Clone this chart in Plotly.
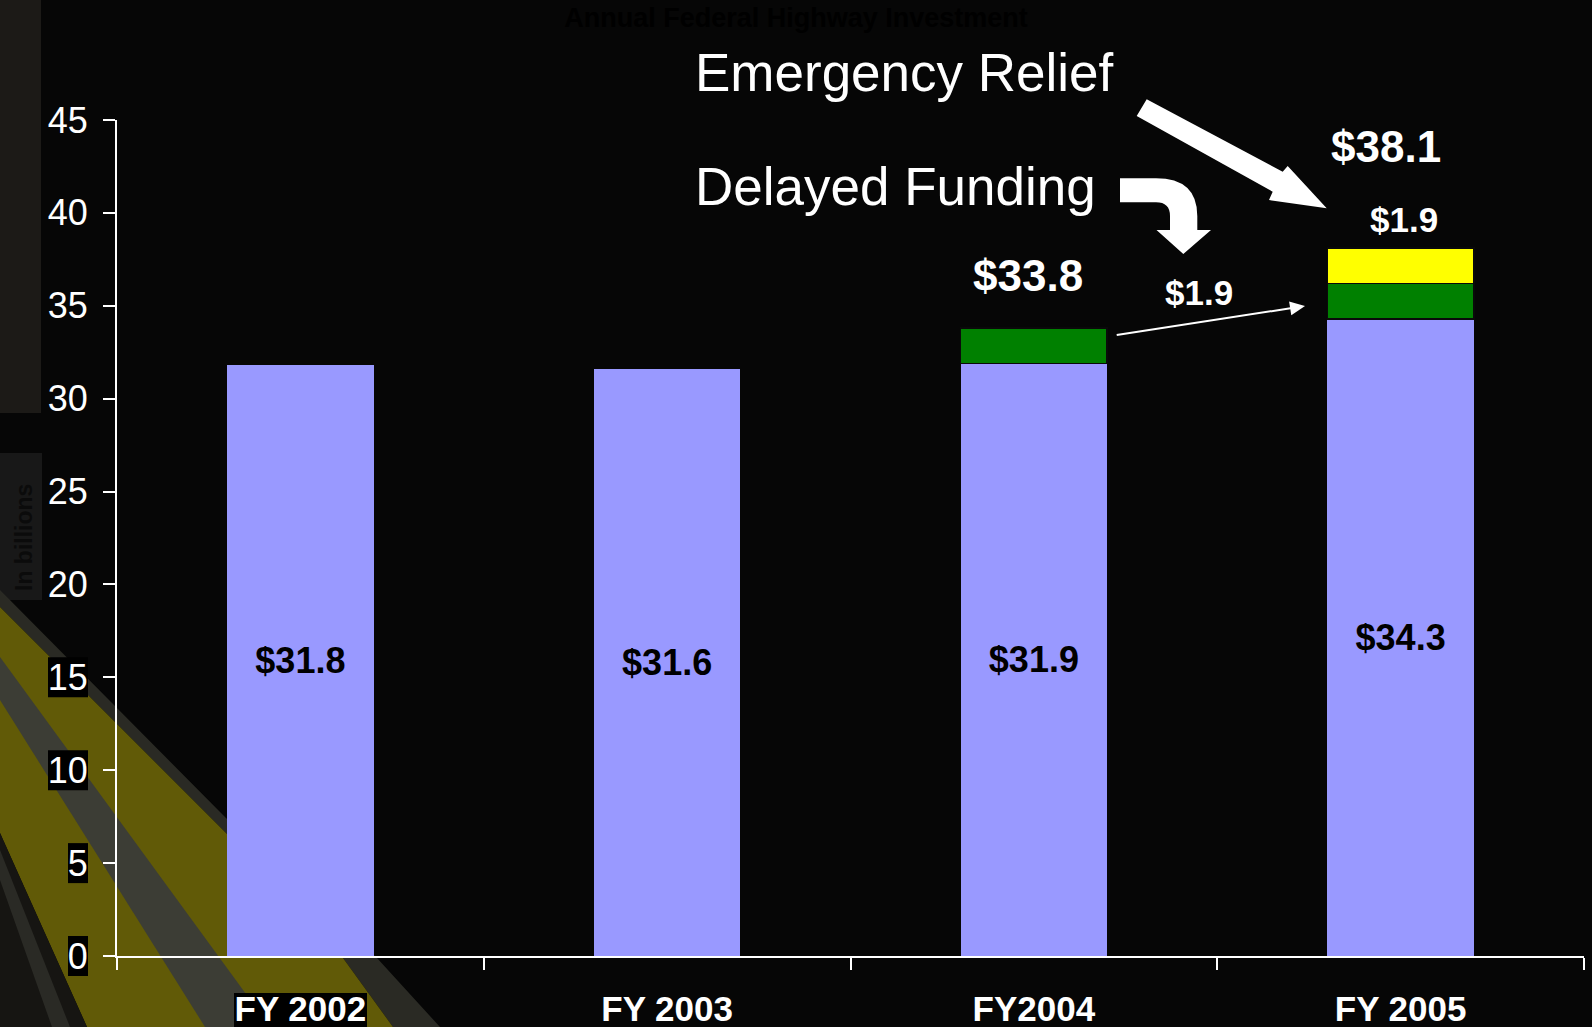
import plotly.graph_objects as go

# ---------------- data ----------------
years = ["FY 2002", "FY 2003", "FY2004", "FY 2005"]
base_funding = [31.8, 31.6, 31.9, 34.3]
delayed_funding = [None, None, 1.9, 1.9]
emergency_relief = [None, None, None, 1.9]
y_tick_values = [0, 5, 10, 15, 20, 25, 30, 35, 40, 45]

title_text = "Annual Federal Highway Investment"
y_title = "In billions"
label_emergency = "Emergency Relief"
label_delayed = "Delayed Funding"

# ---------------- geometry helpers (decoration only) ----------------
W, H = 1592, 1027
L, R, T, B = 117, 8, 120, 71
PW, PH = W - L - R, H - T - B
FONT = "Liberation Sans, Arial, sans-serif"


def px(x):
    return (x - L) / PW


def py(y):
    return (H - B - y) / PH


def poly(points):
    return "M " + " L ".join(f"{px(x):.5f},{py(y):.5f}" for x, y in points) + " Z"


totals = [sum(v for v in vals if v is not None)
          for vals in zip(base_funding, delayed_funding, emergency_relief)]

fig = go.Figure()
fig.add_trace(go.Bar(
    x=years, y=base_funding, name="Base",
    marker=dict(color="#9999ff", line=dict(width=0)),
    texttemplate="$%{y:.1f}", textposition="inside", insidetextanchor="middle",
    textangle=0, textfont=dict(family=FONT, size=36, color="black", weight="bold"),
))
fig.add_trace(go.Bar(
    x=years, y=delayed_funding, name=label_delayed,
    marker=dict(color="#008000", line=dict(width=1.5, color="#0a0a0a")),
))
fig.add_trace(go.Bar(
    x=years, y=emergency_relief, name=label_emergency,
    marker=dict(color="#ffff00", line=dict(width=1.5, color="#0a0a0a")),
))

shapes = []
# background decoration: left strip and road stripes
shapes.append(dict(type="rect", xref="paper", yref="paper", x0=px(0), x1=px(41), y0=py(413), y1=py(0),
                   fillcolor="#1c1a17", line=dict(width=0), layer="below"))
shapes.append(dict(type="rect", xref="paper", yref="paper", x0=px(0), x1=px(42), y0=py(600), y1=py(453),
                   fillcolor="#181818", line=dict(width=0), layer="below"))
shapes.append(dict(type="path", xref="paper", yref="paper", layer="below", line=dict(width=0),
                   fillcolor="#2a2a24",
                   path=poly([(0, 590), (226, 818), (377, 958), (440, 1027), (393, 1027), (343, 958),
                              (226, 833), (0, 607)])))
shapes.append(dict(type="path", xref="paper", yref="paper", layer="below", line=dict(width=0),
                   fillcolor="#615a07",
                   path=poly([(0, 607), (226, 833), (343, 958), (393, 1027), (87, 1027), (0, 833)])))
shapes.append(dict(type="path", xref="paper", yref="paper", layer="below", line=dict(width=0),
                   fillcolor="#3c3d35",
                   path=poly([(0, 657), (270, 1027), (205, 1027), (0, 700)])))
shapes.append(dict(type="path", xref="paper", yref="paper", layer="below", line=dict(width=0),
                   fillcolor="#161512",
                   path=poly([(0, 833), (87, 1027), (0, 1027)])))
shapes.append(dict(type="path", xref="paper", yref="paper", layer="below", line=dict(width=0),
                   fillcolor="#2a2a25",
                   path=poly([(0, 850), (70, 1027), (52, 1027), (0, 880)])))

# black boxes behind tick labels (from the slide)
for v in [0, 5, 10, 15]:
    yc = (H - B) - v * PH / 45
    x0 = 68 if v < 10 else 48
    shapes.append(dict(type="rect", xref="paper", yref="paper", x0=px(x0), x1=px(88),
                       y0=py(yc + 20), y1=py(yc - 20), fillcolor="#000000",
                       line=dict(width=0), layer="below"))
shapes.append(dict(type="rect", xref="paper", yref="paper", x0=px(234), x1=px(367),
                   y0=py(1027), y1=py(993), fillcolor="#000000", line=dict(width=0), layer="below"))

# big straight arrow (Emergency Relief)
shapes.append(dict(type="path", xref="paper", yref="paper", fillcolor="white", line=dict(width=0),
                   path=poly([(1146.7, 99.3), (1282.7, 171.7), (1287.7, 166), (1326.7, 208.3),
                              (1269, 200), (1272.7, 191.7), (1136.7, 116)])))
# curved arrow (Delayed Funding)
cp = (f"M {px(1120):.5f},{py(178.3):.5f} L {px(1156):.5f},{py(178.3):.5f} "
      f"Q {px(1197.3):.5f},{py(178.3):.5f} {px(1197.3):.5f},{py(216):.5f} "
      f"L {px(1197.3):.5f},{py(230):.5f} L {px(1211):.5f},{py(230):.5f} "
      f"L {px(1183.3):.5f},{py(254):.5f} L {px(1156.5):.5f},{py(230):.5f} "
      f"L {px(1170):.5f},{py(230):.5f} L {px(1170):.5f},{py(216):.5f} "
      f"Q {px(1170):.5f},{py(202.3):.5f} {px(1156):.5f},{py(202.3):.5f} "
      f"L {px(1120):.5f},{py(202.3):.5f} Z")
shapes.append(dict(type="path", xref="paper", yref="paper", fillcolor="white", line=dict(width=0), path=cp))
# thin arrow
shapes.append(dict(type="line", xref="paper", yref="paper", x0=px(1116.7), y0=py(335), x1=px(1292), y1=py(308),
                   line=dict(color="white", width=2)))
shapes.append(dict(type="path", xref="paper", yref="paper", fillcolor="white", line=dict(width=0),
                   path=poly([(1305, 306), (1291.3, 315.2), (1289.1, 301.4)])))

annotations = [
    dict(xref="paper", yref="paper", x=px(693), y=py(73), xanchor="left", yanchor="middle",
         text=label_emergency, showarrow=False, font=dict(family=FONT, size=53, color="white")),
    dict(xref="paper", yref="paper", x=px(693), y=py(186), xanchor="left", yanchor="middle",
         text=label_delayed, showarrow=False, font=dict(family=FONT, size=53, color="white")),
    dict(xref="paper", yref="paper", x=px(24), y=py(538), textangle=-90, xanchor="center", yanchor="middle",
         text=y_title, showarrow=False, font=dict(family=FONT, size=23, color="#0b0b0b", weight="bold")),
    # totals
    dict(x=1.984, y=totals[2], yshift=53, text=f"${totals[2]:.1f}", showarrow=False,
         font=dict(family=FONT, size=44, color="white", weight="bold")),
    dict(x=2.96, y=totals[3], yshift=102, text=f"${totals[3]:.1f}", showarrow=False,
         font=dict(family=FONT, size=44, color="white", weight="bold")),
    # segment values
    dict(x=3.01, y=totals[3], yshift=29, text=f"${emergency_relief[3]:.1f}", showarrow=False,
         font=dict(family=FONT, size=35, color="white", weight="bold")),
    dict(x=2.45, y=base_funding[2] + delayed_funding[2] + 1.9, text=f"${delayed_funding[2]:.1f}", showarrow=False,
         font=dict(family=FONT, size=35, color="white", weight="bold")),
]

fig.update_layout(
    width=W, height=H,
    margin=dict(l=L, r=R, t=T, b=B, autoexpand=False),
    paper_bgcolor="#060606", plot_bgcolor="rgba(0,0,0,0)",
    barmode="stack", bargap=0.6, showlegend=False,
    title=dict(text=title_text, x=0.5, xanchor="center", y=1 - 18 / H, yanchor="middle",
               font=dict(family=FONT, size=27, color="#000000", weight="bold")),
    shapes=shapes, annotations=annotations,
    font=dict(family=FONT, color="white"),
)
fig.update_xaxes(
    type="category", showgrid=False, showline=True, linecolor="white", linewidth=2,
    ticks="outside", tickson="boundaries", ticklen=12, tickwidth=2, tickcolor="white",
    tickfont=dict(family=FONT, size=35, color="white", weight="bold"),
    ticklabelstandoff=21, automargin=False,
    range=[-0.5, 3.5], zeroline=False,
)
fig.update_yaxes(
    range=[0, 45], tickvals=y_tick_values, showgrid=False, zeroline=False,
    showline=True, linecolor="white", linewidth=2,
    ticks="outside", ticklen=12, tickwidth=2, tickcolor="white",
    tickfont=dict(family=FONT, size=36, color="white"),
    ticklabelstandoff=8, automargin=False,
)

fig.write_html("out.html", config={"displayModeBar": False},
               post_script="document.body.style.margin='0px';document.body.style.background='#060606';")
